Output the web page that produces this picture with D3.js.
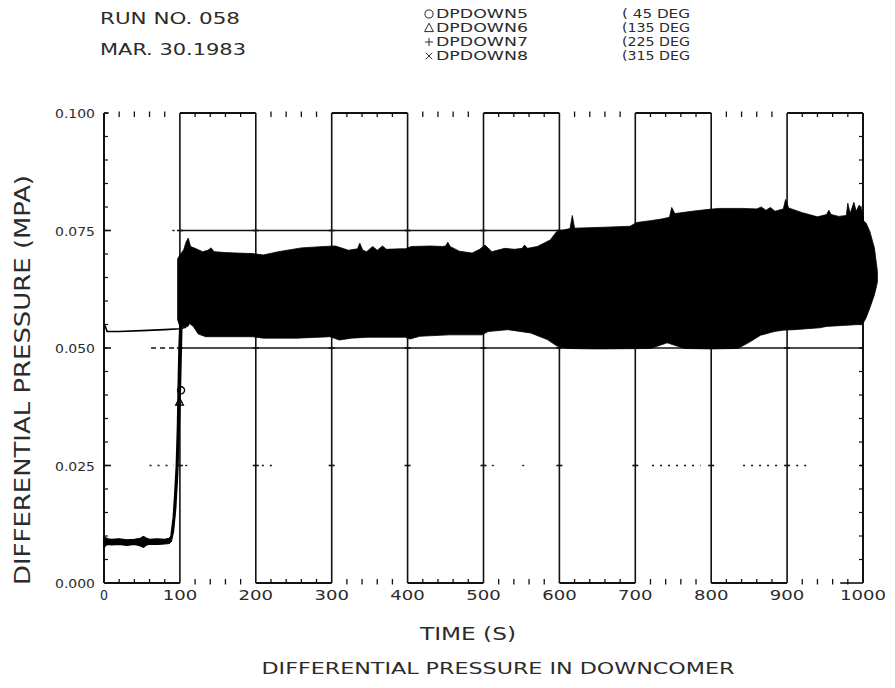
<!DOCTYPE html>
<html>
<head>
<meta charset="utf-8">
<script src="https://cdn.jsdelivr.net/npm/d3@7"></script>
<style>
  html, body { margin: 0; padding: 0; background: #fff; }
  svg { display: block; }
  text { font-family: "DejaVu Sans Condensed", "DejaVu Sans", sans-serif; font-weight: 200; fill: #2b2b2b; }
</style>
</head>
<body>
<svg id="chart" width="895" height="688"></svg>
<script>
// ---- Header / legend text ----
const runLabel = "RUN NO. 058";
const dateLabel = "MAR. 30.1983";
const seriesNames = ["DPDOWN5", "DPDOWN6", "DPDOWN7", "DPDOWN8"];
const seriesAngles = ["( 45 DEG", "(135 DEG", "(225 DEG", "(315 DEG"];
const seriesSymbols = ["circle", "triangle", "plus", "cross"];

// ---- Axes ----
const xTicks = [0, 100, 200, 300, 400, 500, 600, 700, 800, 900, 1000];
const yTicks = [0.000, 0.025, 0.050, 0.075, 0.100];
const yTickLabels = ["0.000", "0.025", "0.050", "0.075", "0.100"];
const xTitle = "TIME (S)";
const yTitle = "DIFFERENTIAL PRESSURE (MPA)";
const chartTitle = "DIFFERENTIAL PRESSURE IN DOWNCOMER";

// ---- Traces (time in s, pressure in MPa) ----
// Pre-injection level, noisy band
const lowT     = [0, 2, 5, 10, 20, 30, 40, 48, 52, 56, 60, 70, 80, 86, 88];
const lowUpper = [0.0100, 0.0096, 0.0094, 0.0093, 0.0094, 0.0092, 0.0093, 0.0095, 0.0099, 0.0095, 0.0093, 0.0094, 0.0093, 0.0095, 0.0098];
const lowLower = [0.0074, 0.0080, 0.0082, 0.0081, 0.0082, 0.0080, 0.0082, 0.0079, 0.0076, 0.0081, 0.0082, 0.0082, 0.0083, 0.0084, 0.0088];

// Rapid rise around t = 100 s (two overlapping channels)
const riseAT = [86, 89, 92, 94, 96, 97.5, 98.5, 99.5, 101, 103];
const riseAV = [0.0090, 0.0100, 0.0140, 0.0190, 0.0250, 0.0330, 0.0420, 0.0500, 0.0560, 0.0600];
const riseBT = [88, 91, 94, 96.5, 98.5, 100, 101, 102, 104];
const riseBV = [0.0088, 0.0110, 0.0160, 0.0230, 0.0320, 0.0400, 0.0470, 0.0540, 0.0620];

// Channel reading ~0.054 before injection
const flatT = [0, 2, 4, 20, 50, 80, 100, 108];
const flatV = [0.0550, 0.0545, 0.0535, 0.0535, 0.0537, 0.0539, 0.0541, 0.0544];

// Oscillation envelope after t = 100 s: upper bound
const upperT = [97, 100, 105, 108, 111, 114, 120, 130, 137, 141, 145, 160, 175, 195, 210, 230, 260, 290,
  305, 322, 334, 337, 341, 346, 354, 360, 367, 372, 390, 397, 405, 430, 446, 450, 453, 456, 468, 485,
  495, 502, 511, 528, 541, 551, 554, 558, 571, 588, 596, 605, 614, 617, 620, 640, 660, 693, 702, 720,
  733, 745, 748, 752, 775, 797, 810, 840, 860, 866, 872, 878, 884, 895, 898, 902, 920, 940, 952, 955,
  958, 968, 978, 980, 983, 988, 991, 995, 998, 1001, 1004, 1009, 1015, 1019];
const upperV = [0.0690, 0.0698, 0.0709, 0.0725, 0.0734, 0.0716, 0.0712, 0.0705, 0.0708, 0.0713, 0.0705, 0.0703, 0.0702, 0.0701, 0.0698, 0.0705, 0.0713, 0.0716,
  0.0717, 0.0708, 0.0711, 0.0723, 0.0708, 0.0705, 0.0716, 0.0708, 0.0717, 0.0710, 0.0711, 0.0711, 0.0716, 0.0717, 0.0716, 0.0717, 0.0725, 0.0716, 0.0706, 0.0702,
  0.0710, 0.0719, 0.0705, 0.0712, 0.0710, 0.0712, 0.0719, 0.0712, 0.0716, 0.0730, 0.0747, 0.0751, 0.0754, 0.0782, 0.0755, 0.0756, 0.0757, 0.0759, 0.0767, 0.0771,
  0.0774, 0.0778, 0.0799, 0.0786, 0.0791, 0.0795, 0.0797, 0.0797, 0.0796, 0.0800, 0.0793, 0.0799, 0.0791, 0.0796, 0.0816, 0.0798, 0.0788, 0.0779, 0.0784, 0.0793,
  0.0784, 0.0780, 0.0782, 0.0808, 0.0786, 0.0810, 0.0791, 0.0804, 0.0796, 0.0770, 0.0766, 0.0748, 0.0713, 0.0663];

// Oscillation envelope after t = 100 s: lower bound
const lowerT = [97, 100, 110, 113, 118, 124, 134, 196, 210, 254, 298, 310, 326, 348, 397, 403, 416, 455, 498,
  506, 532, 562, 584, 597, 610, 650, 720, 742, 765, 800, 835, 850, 865, 883, 895, 909, 943, 952, 995, 1000,
  1004, 1009, 1015, 1019];
const lowerV = [0.0560, 0.0545, 0.0545, 0.0552, 0.0545, 0.0530, 0.0524, 0.0524, 0.0521, 0.0521, 0.0524, 0.0517, 0.0521, 0.0523, 0.0523, 0.0519, 0.0525, 0.0528, 0.0528,
  0.0535, 0.0539, 0.0532, 0.0518, 0.0504, 0.0499, 0.0498, 0.0499, 0.0511, 0.0499, 0.0498, 0.0499, 0.0512, 0.0527, 0.0535, 0.0538, 0.0539, 0.0543, 0.0546, 0.0550, 0.0552,
  0.0564, 0.0585, 0.0613, 0.0640];

// Broken grid line at 0.025 MPa: [start, end] in seconds
const quarterGridSpans = [[60, 92], [107, 114], [208, 228], [511, 515], [551, 556], [722, 786], [842, 892], [912, 932]];

// ---- Drawing ----
const svg = d3.select("#chart");
const x = d3.scaleLinear().domain([0, 1000]).range([104, 863]);
const y = d3.scaleLinear().domain([0, 0.1]).range([583, 113]);

svg.append("rect").attr("width", 895).attr("height", 688).attr("fill", "#fff");

const line = d3.line().x(d => x(d[0])).y(d => y(d[1]));
const zip = (t, v) => t.map((ti, i) => [ti, v[i]]);

const frame = svg.append("g").attr("stroke", "#111").attr("fill", "none");

// Left and right axes
frame.append("line").attr("x1", x(0)).attr("x2", x(0)).attr("y1", y(0.1)).attr("y2", y(0)).attr("stroke-width", 2);
frame.append("line").attr("x1", x(1000)).attr("x2", x(1000)).attr("y1", y(0.1)).attr("y2", y(0)).attr("stroke-width", 2);

// Vertical grid lines at each 100 s
xTicks.slice(1, -1).forEach(t => {
  frame.append("line").attr("x1", x(t)).attr("x2", x(t)).attr("y1", y(0.1)).attr("y2", y(0)).attr("stroke-width", 1.6);
});

// Top / bottom frame: alternating solid segments, tick marks every 20 s
for (let i = 0; i < 10; i++) {
  const a = i * 100, b = a + 100;
  const topSolid = i % 2 === 1;
  if (topSolid) frame.append("line").attr("x1", x(a)).attr("x2", x(b)).attr("y1", y(0.1)).attr("y2", y(0.1)).attr("stroke-width", 1.8);
  if (!topSolid) frame.append("line").attr("x1", x(a)).attr("x2", x(b)).attr("y1", y(0)).attr("y2", y(0)).attr("stroke-width", 1.8);
  for (let t = a + 20; t < b; t += 20) {
    frame.append("line").attr("x1", x(t)).attr("x2", x(t)).attr("y1", y(0.1) - (topSolid ? 0 : 1.5)).attr("y2", y(0.1) + 4).attr("stroke-width", 1.3);
    frame.append("line").attr("x1", x(t)).attr("x2", x(t)).attr("y1", y(0) + (topSolid ? 1.5 : 0)).attr("y2", y(0) - 4).attr("stroke-width", 1.3);
  }
}
frame.append("line").attr("x1", x(0)).attr("x2", x(6)).attr("y1", y(0.1)).attr("y2", y(0.1)).attr("stroke-width", 1.8);
frame.append("line").attr("x1", x(970)).attr("x2", x(1000)).attr("y1", y(0)).attr("y2", y(0)).attr("stroke-width", 1.6);

// Minor ticks on left and right axes
for (let k = 1; k < 20; k++) {
  const v = k * 0.005;
  frame.append("line").attr("x1", x(0)).attr("x2", x(0) + 4).attr("y1", y(v)).attr("y2", y(v)).attr("stroke-width", 1.2);
  frame.append("line").attr("x1", x(1000)).attr("x2", x(1000) - 4).attr("y1", y(v)).attr("y2", y(v)).attr("stroke-width", 1.2);
}
// Major ticks on left axis and crossing marks on grid lines
yTicks.slice(1, -1).forEach(v => {
  frame.append("line").attr("x1", x(0)).attr("x2", x(0) + 7).attr("y1", y(v)).attr("y2", y(v)).attr("stroke-width", 1.6);
  xTicks.slice(1).forEach(t => {
    frame.append("line").attr("x1", x(t) - 3).attr("x2", x(t) + (t === 1000 ? 0 : 3)).attr("y1", y(v)).attr("y2", y(v)).attr("stroke-width", 1.6);
  });
});

// Horizontal reference lines
frame.append("line").attr("x1", x(100)).attr("x2", x(1000)).attr("y1", y(0.075)).attr("y2", y(0.075)).attr("stroke-width", 1.5);
frame.append("line").attr("x1", x(100)).attr("x2", x(1000)).attr("y1", y(0.050)).attr("y2", y(0.050)).attr("stroke-width", 1.5);
frame.append("line").attr("x1", x(62)).attr("x2", x(94)).attr("y1", y(0.050)).attr("y2", y(0.050)).attr("stroke-width", 1.4).attr("stroke-dasharray", "5,4");
frame.append("line").attr("x1", x(90)).attr("x2", x(93)).attr("y1", y(0.075)).attr("y2", y(0.075)).attr("stroke-width", 1.4);
quarterGridSpans.forEach(([a, b]) => {
  frame.append("line").attr("x1", x(a)).attr("x2", x(b)).attr("y1", y(0.025)).attr("y2", y(0.025))
    .attr("stroke-width", 1.3).attr("stroke-dasharray", "2,6");
});

// ---- Data traces ----
const traces = svg.append("g");

// Pre-injection band
const lowRing = zip(lowT, lowUpper).concat(zip(lowT, lowLower).reverse());
traces.append("path").attr("d", line(lowRing) + "Z").attr("fill", "#000").attr("stroke", "#000").attr("stroke-width", 1.2);

// Channel near 0.054
traces.append("path").attr("d", line(zip(flatT, flatV))).attr("fill", "none").attr("stroke", "#000").attr("stroke-width", 1.6);

// Rise
traces.append("path").attr("d", line(zip(riseAT, riseAV))).attr("fill", "none").attr("stroke", "#000").attr("stroke-width", 2.6);
traces.append("path").attr("d", line(zip(riseBT, riseBV))).attr("fill", "none").attr("stroke", "#000").attr("stroke-width", 2.2);

// Oscillation envelope
const ring = zip(upperT, upperV).concat(zip(lowerT, lowerV).reverse());
traces.append("path").attr("d", line(ring) + "Z").attr("fill", "#000").attr("stroke", "#000").attr("stroke-width", 0.8).attr("stroke-linejoin", "round");

// Plot symbols: simple stroked glyphs in the style of a pen plotter
const glyph = (kind, s) => {
  if (kind === "circle") return d3.symbol().type(d3.symbolCircle).size(s * s * 0.8)();
  if (kind === "triangle") return `M0,${-s * 0.6}L${s * 0.55},${s * 0.45}L${-s * 0.55},${s * 0.45}Z`;
  if (kind === "plus") return `M${-s / 2},0H${s / 2}M0,${-s / 2}V${s / 2}`;
  return `M${-s * 0.4},${-s * 0.4}L${s * 0.4},${s * 0.4}M${s * 0.4},${-s * 0.4}L${-s * 0.4},${s * 0.4}`;
};
const riseMarks = [[101.5, 0.0410, "circle"], [99.5, 0.0385, "triangle"]];
riseMarks.forEach(([t, v, s]) => {
  traces.append("path").attr("d", glyph(s, 7)).attr("transform", `translate(${x(t)},${y(v)})`)
    .attr("fill", "none").attr("stroke", "#000").attr("stroke-width", 1.3);
});

// ---- Text ----
const txt = (s, px, py, size, len, anchor) => {
  const el = svg.append("text").attr("x", px).attr("y", py).attr("font-size", size).text(s);
  if (anchor) el.attr("text-anchor", anchor);
  if (len) el.attr("textLength", len).attr("lengthAdjust", "spacingAndGlyphs");
  return el;
};

txt(runLabel, 100, 24, 15, 140);
txt(dateLabel, 100, 55, 15, 146);

const rowY = [18, 32, 46, 60];
seriesNames.forEach((n, i) => {
  svg.append("path").attr("d", glyph(seriesSymbols[i], 8))
    .attr("transform", `translate(429,${rowY[i] - 4})`)
    .attr("fill", "none").attr("stroke", "#2b2b2b").attr("stroke-width", 1);
  txt(n, 436, rowY[i], 12, 92);
  txt(seriesAngles[i], 622, rowY[i], 12, 68);
});

// Y tick labels
yTicks.forEach((v, i) => {
  txt(yTickLabels[i], 95, y(v) + 5, 13, 40, "end");
});
// X tick labels
xTicks.forEach(t => {
  const s = String(t);
  txt(s, x(t), 600, 14, s.length === 1 ? 8 : s.length * 11.5, "middle");
});

txt(xTitle, 468, 640, 18, 96, "middle");
txt(chartTitle, 498, 674, 15, 473, "middle");

svg.append("text")
  .attr("transform", `translate(30,${380}) rotate(-90)`)
  .attr("text-anchor", "middle")
  .attr("font-size", 21)
  .attr("textLength", 410)
  .attr("lengthAdjust", "spacingAndGlyphs")
  .text(yTitle);
</script>
</body>
</html>
